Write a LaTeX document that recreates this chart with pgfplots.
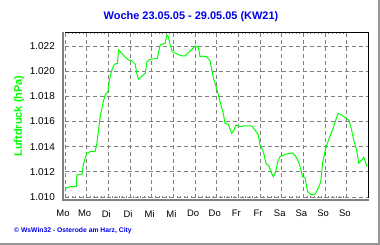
\documentclass[border=0pt]{standalone}
\usepackage{pgfplots}
\pgfplotsset{compat=1.18}
\usepackage{fontspec}
\setmainfont{Liberation Sans}
\definecolor{ttlblue}{RGB}{0,0,235}
\definecolor{lime}{RGB}{0,255,0}
\definecolor{gridgray}{RGB}{128,128,128}
\definecolor{framegray}{RGB}{150,150,150}
\begin{document}
\begin{tikzpicture}
\begin{axis}[
  at={(0,0)}, anchor=origin,
  scale only axis,
  width=303.5bp, height=165.7bp,
  xmin=0, xmax=14, ymin=1009.92, ymax=1023.09,
  xtick={0,1,...,13},
  xticklabels={Mo,Mo,Di,Di,Mi,Mi,Do,Do,Fr,Fr,Sa,Sa,So,So},
  extra x ticks={14}, extra x tick labels={},
  minor x tick num=5,
  ytick={1010,1012,...,1022},
  /pgf/number format/assume math mode=true,
  /pgf/number format/1000 sep={.},
  /pgf/number format/fixed,
  grid=major,
  major grid style={gridgray, line width=0.9bp, dash pattern=on 4bp off 3bp},
  axis line style={draw=none},
  tick align=inside,
  major tick length=0pt,
  minor tick length=2.2bp,
  minor tick style={gridgray, line width=0.8bp},
  xticklabel style={font=\fontsize{9.5}{10}\selectfont, anchor=north, inner sep=0pt, yshift=-12bp, xshift=-2bp},
  yticklabel style={font=\fontsize{10}{11}\selectfont, anchor=east, inner sep=0pt, xshift=-10bp},
  clip=false,
]
\addplot[lime, line width=1bp, mark=none] coordinates {
(0.0,1010.69) (0.24,1010.82) (0.52,1010.85) (0.55,1011.75) (0.78,1011.8)
(0.86,1012.68) (1.01,1013.47) (1.16,1013.6) (1.39,1013.6) (1.47,1014.27)
(1.55,1015.33) (1.62,1016.38) (1.75,1017.45) (1.85,1018.1) (1.98,1018.37)
(2.05,1019.3) (2.16,1020.1) (2.28,1020.55) (2.42,1020.63) (2.47,1021.69)
(2.62,1021.42) (2.78,1021.1) (2.93,1020.89) (3.08,1020.83) (3.24,1020.55)
(3.31,1019.83) (3.39,1019.36) (3.55,1019.62) (3.70,1019.83) (3.78,1020.75)
(3.93,1020.94) (4.26,1021.02) (4.39,1022.08) (4.62,1022.22) (4.70,1022.88)
(4.77,1022.74) (4.85,1022.08) (4.95,1021.55) (5.16,1021.37) (5.39,1021.21)
(5.54,1021.21) (5.69,1021.47) (5.85,1021.74) (6.00,1022.0) (6.15,1021.9)
(6.23,1021.15) (6.38,1021.2) (6.54,1021.15) (6.69,1020.83) (6.84,1019.5)
(6.92,1019.04) (7.00,1018.6) (7.15,1017.6) (7.30,1016.65) (7.38,1015.86)
(7.53,1015.8) (7.69,1015.06) (7.80,1015.33) (7.89,1015.72) (8.07,1015.59)
(8.30,1015.66) (8.61,1015.66) (8.76,1015.33) (8.92,1014.93) (8.99,1014.13)
(9.15,1013.6) (9.27,1012.68) (9.42,1012.41) (9.53,1011.88) (9.61,1011.61)
(9.72,1012.01) (9.81,1012.81) (9.92,1013.2) (10.15,1013.39) (10.38,1013.47)
(10.50,1013.5) (10.65,1013.2) (10.80,1012.68) (10.96,1011.61) (11.07,1011.53)
(11.19,1010.42) (11.38,1010.16) (11.53,1010.21) (11.68,1010.69) (11.80,1011.22)
(11.88,1012.68) (11.99,1013.6) (12.10,1014.27) (12.22,1014.8) (12.37,1015.46)
(12.49,1016.12) (12.60,1016.65) (12.76,1016.52) (12.96,1016.26) (13.11,1016.07)
(13.22,1015.33) (13.32,1014.53) (13.45,1013.74) (13.55,1012.68) (13.68,1012.94)
(13.78,1013.15) (13.88,1012.68) (13.94,1012.41)
};
\draw[black, line width=1.3bp] (rel axis cs:0,1) -- (rel axis cs:1,1) -- (rel axis cs:1,0);
\draw[gridgray, line width=2.4bp] ([xshift=-2bp]rel axis cs:0,1) -- ([xshift=-2bp,yshift=-2bp]rel axis cs:0,0) -- ([yshift=-2bp]rel axis cs:1,0);
\end{axis}
\node[ttlblue, font=\fontsize{11}{12}\selectfont\bfseries] at (126bp,181bp) {Woche 23.05.05 - 29.05.05 (KW21)};
\node[lime, font=\fontsize{11}{12}\selectfont\bfseries, rotate=90] at (-46bp,82bp) {Luftdruck (hPa)};
\node[ttlblue, font=\fontsize{6.8}{7}\selectfont\bfseries, anchor=west, inner sep=0pt] at (-51bp,-32.5bp) {© WsWin32 - Osterode am Harz, City};
\draw[framegray, line width=1.4bp] (314bp,198bp) -- (314bp,-46bp) -- (-65bp,-46bp);
\pgfresetboundingbox
\useasboundingbox (-65bp,-47bp) rectangle (315bp,198bp);
\end{tikzpicture}
\end{document}
